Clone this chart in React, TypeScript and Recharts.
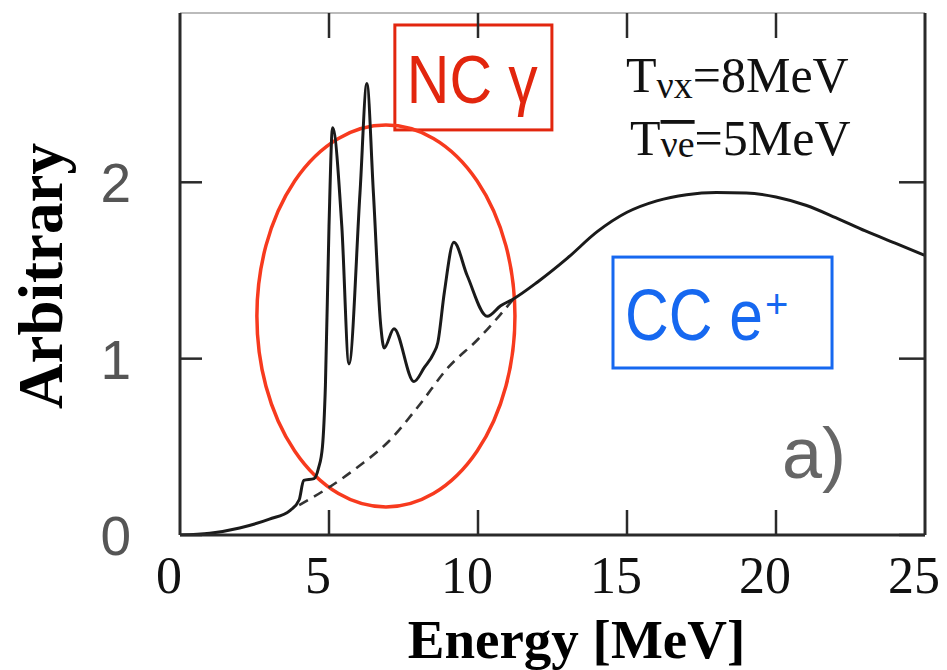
import React from "react";
import {
  LineChart,
  Line,
  XAxis,
  YAxis,
  ReferenceArea,
  Label,
  Customized,
} from "recharts";

// full spectrum (NC gamma lines on top of the CC e+ continuum)
const spectrumEnergy = [
  0, 1, 2, 3, 3.7, 4.0, 4.15, 4.5, 4.65, 4.78, 4.88, 5.0, 5.12, 5.43, 5.67,
  6.04, 6.27, 6.49, 6.74, 6.85, 7.18, 7.85, 8.2, 8.51, 8.65, 8.87, 9.19, 9.64,
  10.31, 10.76, 11.2, 12, 13, 14, 15, 16, 17, 18, 19, 20, 21, 22, 23, 24, 25,
];
const spectrumValue = [
  0, 0.01, 0.04, 0.09, 0.14, 0.2, 0.31, 0.32, 0.38, 0.5, 0.85, 1.75, 2.31, 1.75,
  0.97, 1.94, 2.56, 1.94, 1.18, 1.06, 1.17, 0.87, 0.95, 1.03, 1.09, 1.375, 1.66,
  1.47, 1.24, 1.3, 1.34, 1.435, 1.57, 1.72, 1.83, 1.895, 1.93, 1.942, 1.94,
  1.917, 1.87, 1.8, 1.724, 1.655, 1.585,
];

// CC e+ continuum alone, drawn dashed under the gamma lines
const ccEnergy = [4.0, 5, 6, 7, 8, 9, 10, 10.7, 11.2];
const ccValue = [0.17, 0.27, 0.39, 0.53, 0.73, 0.95, 1.11, 1.24, 1.34];

const xTicks = [0, 5, 10, 15, 20, 25];
const yTicks = [0, 1, 2];

const spectrum = spectrumEnergy.map((energy, i) => ({ energy, value: spectrumValue[i] }));
const ccOnly = ccEnergy.map((energy, i) => ({ energy, value: ccValue[i] }));

const AXIS = "#2a2a2a";
const RED = "#e2260e";
const BLUE = "#1668f0";
const SERIF = "'Liberation Serif', 'Times New Roman', serif";
const SANS = "'Liberation Sans', Arial, sans-serif";

// all ticks point inwards, drawn by hand so the labels can sit freely
const BottomTick = ({ x, y, payload }: any) => (
  <g>
    {payload.value > 0 && payload.value < 25 && (
      <line x1={x} x2={x} y1={y} y2={y - 25} stroke={AXIS} strokeWidth={2.5} />
    )}
    <text x={x - 11} y={y + 58} textAnchor="middle" fontFamily={SERIF} fontSize={52} fill="#111">
      {payload.value}
    </text>
  </g>
);

const TopTick = ({ x, y, payload }: any) =>
  payload.value > 0 && payload.value < 25 ? (
    <line x1={x} x2={x} y1={y} y2={y + 25} stroke={AXIS} strokeWidth={2.5} />
  ) : (
    <g />
  );

const LeftTick = ({ x, y, payload }: any) => (
  <g>
    <line x1={x} x2={x + 22} y1={y} y2={y} stroke={AXIS} strokeWidth={2.5} />
    <text x={x - 49} y={y + 1} textAnchor="end" dominantBaseline="central" fontFamily={SANS} fontSize={55} fill="#555">
      {payload.value}
    </text>
  </g>
);

const RightTick = ({ x, y }: any) => (
  <line x1={x} x2={x - 26} y1={y} y2={y} stroke={AXIS} strokeWidth={2.5} />
);

const Ellipse = ({ x, y, width, height }: any) => (
  <ellipse
    cx={x + width / 2}
    cy={y + height / 2}
    rx={width / 2}
    ry={height / 2}
    fill="none"
    stroke="#f73a1e"
    strokeWidth={3.5}
  />
);

const NcBox = ({ x, y, width, height }: any) => (
  <g>
    <rect x={x} y={y} width={width} height={height} fill="#fff" stroke={RED} strokeWidth={3} />
    <text x={x + 12} y={y + 78} fontFamily={SANS} fontSize={68} fill={RED} textLength={131} lengthAdjust="spacingAndGlyphs">
      NC γ
    </text>
  </g>
);

const CcBox = ({ x, y, width, height }: any) => (
  <g>
    <rect x={x} y={y} width={width} height={height} fill="#fff" stroke={BLUE} strokeWidth={3} />
    <text x={x + 12} y={y + 83} fontFamily={SANS} fontSize={72} fill={BLUE}>
      <tspan textLength={138} lengthAdjust="spacingAndGlyphs">CC e</tspan>
      <tspan dx={2} dy={-22} fontSize={40}>+</tspan>
    </text>
  </g>
);

const Annotations = () => (
  <g>
    <text x={626} y={92} fontFamily={SERIF} fontSize={50} fill="#111">
      T
      <tspan fontSize={38} dy={6}>νx</tspan>
      <tspan dy={-6}>=8MeV</tspan>
    </text>
    <text x={630} y={155} fontFamily={SERIF} fontSize={50} fill="#111">
      T
      <tspan fontSize={38} dy={2} style={{ textDecoration: "overline" }}>νe</tspan>
      <tspan dy={-2}>=5MeV</tspan>
    </text>
    <text x={782} y={478} fontFamily={SANS} fontSize={72} fill="#666">
      a)
    </text>
  </g>
);

export default function App() {
  return (
    <div style={{ position: "absolute", left: 0, top: 0, background: "#fff" }}>
      <LineChart width={947} height={670} margin={{ top: 12, right: 21, bottom: 0, left: 0 }}>
        <XAxis
          xAxisId="bottom"
          dataKey="energy"
          type="number"
          domain={[0, 25]}
          ticks={xTicks}
          height={135}
          tickSize={0}
          tickMargin={0}
          tickLine={false}
          axisLine={{ stroke: AXIS, strokeWidth: 3 }}
          tick={<BottomTick />}
          interval={0}
          allowDataOverflow
        >
          <Label
            content={({ viewBox }: any) => (
              <text
                x={viewBox.x + viewBox.width / 2 + 24}
                y={viewBox.y + 123}
                textAnchor="middle"
                fontFamily={SERIF}
                fontWeight="bold"
                fontSize={55}
                fill="#000"
              >
                Energy [MeV]
              </text>
            )}
          />
        </XAxis>
        <XAxis
          xAxisId="top"
          orientation="top"
          dataKey="energy"
          type="number"
          domain={[0, 25]}
          ticks={xTicks}
          height={1}
          tickSize={0}
          tickMargin={0}
          tickLine={false}
          axisLine={{ stroke: "#bbb", strokeWidth: 2 }}
          tick={<TopTick />}
          interval={0}
          allowDataOverflow
        />
        <YAxis
          yAxisId="left"
          type="number"
          domain={[0, 2.96]}
          ticks={yTicks}
          width={180}
          tickSize={0}
          tickMargin={0}
          tickLine={false}
          axisLine={{ stroke: AXIS, strokeWidth: 3 }}
          tick={<LeftTick />}
          interval={0}
          allowDataOverflow
        >
          <Label
            content={({ viewBox }: any) => {
              const cx = viewBox.x + 62;
              const cy = viewBox.y + viewBox.height / 2 + 2;
              return (
                <text
                  x={cx}
                  y={cy}
                  transform={`rotate(-90, ${cx}, ${cy})`}
                  textAnchor="middle"
                  fontFamily={SERIF}
                  fontWeight="bold"
                  fontSize={63}
                  fill="#000"
                >
                  Arbitrary
                </text>
              );
            }}
          />
        </YAxis>
        <YAxis
          yAxisId="right"
          orientation="right"
          type="number"
          domain={[0, 2.96]}
          ticks={yTicks}
          width={1}
          tickSize={0}
          tickMargin={0}
          tickLine={false}
          axisLine={{ stroke: AXIS, strokeWidth: 3 }}
          tick={<RightTick />}
          interval={0}
          allowDataOverflow
        />

        <ReferenceArea
          xAxisId="bottom"
          yAxisId="left"
          x1={7.21}
          x2={12.48}
          y1={2.297}
          y2={2.892}
          shape={<NcBox />}
        />
        <ReferenceArea
          xAxisId="bottom"
          yAxisId="left"
          x1={14.53}
          x2={21.88}
          y1={0.947}
          y2={1.576}
          shape={<CcBox />}
        />

        {/* dashed continuum sits on the top/right axes, which share the same scales */}
        <Line
          xAxisId="top"
          yAxisId="right"
          data={ccOnly}
          dataKey="value"
          type="monotone"
          stroke="#333"
          strokeWidth={2.6}
          strokeDasharray="10 7"
          dot={false}
          isAnimationActive={false}
        />
        <Line
          xAxisId="bottom"
          yAxisId="left"
          data={spectrum}
          dataKey="value"
          type="monotone"
          stroke="#1a1a1a"
          strokeWidth={3}
          dot={false}
          isAnimationActive={false}
        />

        <ReferenceArea
          xAxisId="bottom"
          yAxisId="left"
          x1={2.58}
          x2={11.24}
          y1={0.159}
          y2={2.325}
          shape={<Ellipse />}
        />
        <Customized component={<Annotations />} />
      </LineChart>
    </div>
  );
}
